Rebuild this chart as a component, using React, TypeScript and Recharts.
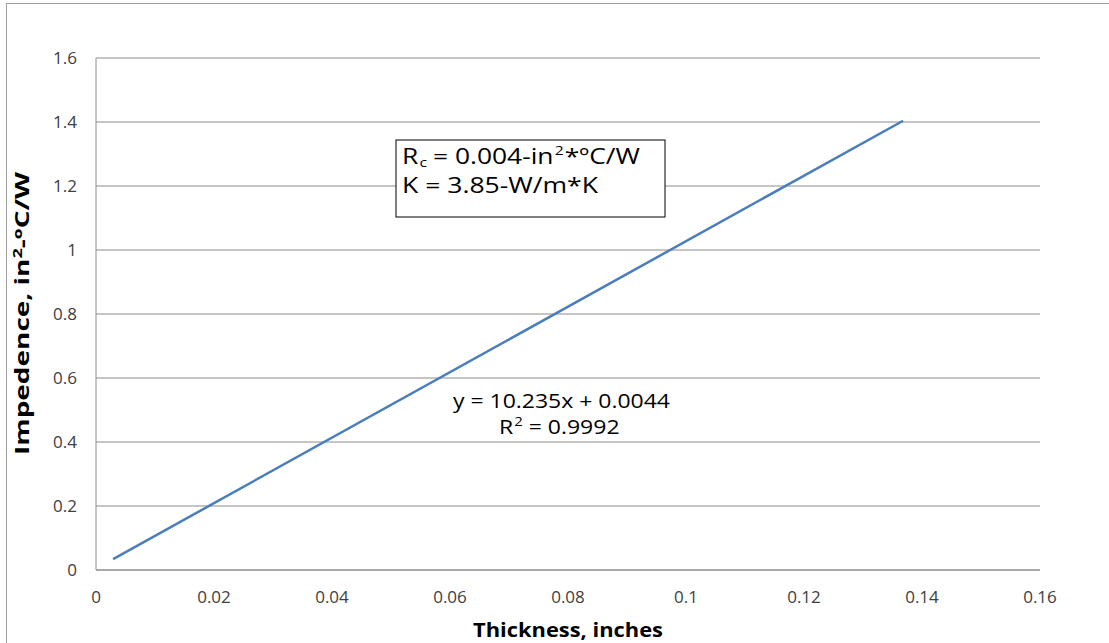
import { LineChart, Line, XAxis, YAxis, CartesianGrid, Customized } from "recharts"

const thickness = [0.0029, 0.1368]
const impedance = [0.034, 1.404]
const xTicks = [0, 0.02, 0.04, 0.06, 0.08, 0.1, 0.12, 0.14, 0.16]
const yTicks = [0, 0.2, 0.4, 0.6, 0.8, 1, 1.2, 1.4, 1.6]

const data = thickness.map((t, i) => ({ t, z: impedance[i] }))

const font = "'Open Sans', 'Noto Sans', sans-serif"

function Notes() {
  return (
    <g fontFamily={font}>
      <rect x={396} y={140} width={269} height={77} fill="#fff" stroke="#000" strokeWidth={1} />
      <g transform="translate(402, 164) scale(1.2, 1)">
        <text x={0} y={0} fontSize={22} fill="#000">
          R<tspan fontSize={13} dy={3} dx={1}>c</tspan>
          <tspan dy={-3} dx={5}>= 0.004-in</tspan>
          <tspan fontSize={13} dy={-9} dx={1}>2</tspan>
          <tspan dy={9} dx={1}>*ºC/W</tspan>
        </text>
      </g>
      <text x={402} y={193} fontSize={21} fill="#000" textLength={196} lengthAdjust="spacingAndGlyphs">
        K = 3.85-W/m*K
      </text>
      <text x={453} y={408} fontSize={20} fill="#000" textLength={217} lengthAdjust="spacingAndGlyphs">
        y = 10.235x + 0.0044
      </text>
      <g transform="translate(499, 434) scale(1.15, 1)">
        <text x={0} y={0} fontSize={20} fill="#000">
          R<tspan fontSize={13} dy={-8} dx={1}>2</tspan>
          <tspan dy={8} dx={5}>= 0.9992</tspan>
        </text>
      </g>
      <text x={473} y={637} fontSize={19} fontWeight="bold" fill="#000" textLength={190} lengthAdjust="spacingAndGlyphs">
        Thickness, inches
      </text>
      <text
        x={-142}
        y={0}
        fontSize={20}
        fontWeight="bold"
        fill="#000"
        transform="translate(29, 313) rotate(-90)"
        textLength={283}
        lengthAdjust="spacingAndGlyphs"
      >
        Impedence, in<tspan fontSize={13} dy={-7}>2</tspan>
        <tspan dy={7}>-ºC/W</tspan>
      </text>
    </g>
  )
}

export default function App() {
  return (
    <div style={{ position: "absolute", left: 0, top: 0, width: 1109, height: 643, background: "#fff", overflow: "hidden" }}>
      <div
        style={{
          position: "absolute",
          left: 6,
          top: 3,
          width: 1120,
          height: 650,
          border: "1px solid #a0a0a0",
          boxSizing: "border-box",
        }}
      />
      <LineChart
        width={1109}
        height={643}
        data={data}
        margin={{ top: 58, right: 69, bottom: 43, left: 36 }}
        style={{ position: "absolute", left: 0, top: 0 }}
      >
        <CartesianGrid vertical={false} stroke="#8c8c8c" strokeWidth={1} />
        <XAxis
          type="number"
          dataKey="t"
          domain={[0, 0.16]}
          ticks={xTicks}
          tickLine={false}
          tickSize={0}
          tickMargin={21}
          stroke="#8c8c8c"
          tick={{ fill: "#404040", fontSize: 17, fontFamily: font }}
          height={30}
        />
        <YAxis
          type="number"
          domain={[0, 1.6]}
          ticks={yTicks}
          tickLine={false}
          tickSize={0}
          tickMargin={19}
          stroke="#8c8c8c"
          width={60}
          tick={{ fill: "#404040", fontSize: 17, fontFamily: font }}
        />
        <Line
          type="linear"
          dataKey="z"
          stroke="#4a7ebb"
          strokeWidth={2.5}
          dot={false}
          isAnimationActive={false}
        />
        <Customized component={Notes} />
      </LineChart>
    </div>
  )
}
